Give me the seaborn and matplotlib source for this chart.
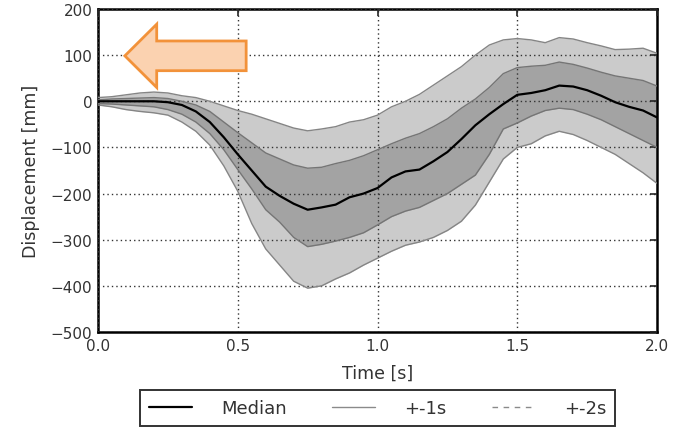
import matplotlib
matplotlib.use("Agg")
import matplotlib.pyplot as plt
from matplotlib.patches import Polygon
from matplotlib.lines import Line2D
import seaborn as sns
import pandas as pd

# time axis [s] and displacement statistics [mm]
time_s = [0.00, 0.05, 0.10, 0.15, 0.20, 0.25, 0.30, 0.35, 0.40, 0.45,
          0.50, 0.55, 0.60, 0.65, 0.70, 0.75, 0.80, 0.85, 0.90, 0.95,
          1.00, 1.05, 1.10, 1.15, 1.20, 1.25, 1.30, 1.35, 1.40, 1.45,
          1.50, 1.55, 1.60, 1.65, 1.70, 1.75, 1.80, 1.85, 1.90, 1.95, 2.00]

median = [0, 0, 0, 0, 0, -2, -8, -22, -45, -78,
          -115, -150, -185, -205, -222, -235, -230, -224, -208, -200,
          -188, -165, -152, -148, -130, -110, -82, -52, -28, -6,
          14, 18, 24, 34, 32, 24, 12, -2, -12, -20, -35]

plus_1s = [3, 5, 6, 7, 8, 6, 0, -8, -22, -45,
           -68, -90, -112, -125, -138, -145, -143, -135, -128, -118,
           -105, -92, -80, -70, -55, -38, -15, 5, 30, 60,
           73, 76, 78, 85, 80, 72, 63, 55, 50, 45, 33]

minus_1s = [-5, -6, -8, -10, -12, -18, -28, -45, -70, -105,
            -148, -190, -235, -262, -295, -315, -310, -303, -295, -285,
            -268, -250, -238, -230, -215, -200, -180, -160, -115, -60,
            -47, -32, -20, -15, -18, -28, -40, -55, -70, -85, -100]

plus_2s = [8, 10, 14, 18, 20, 18, 12, 8, 0, -10,
           -20, -28, -38, -48, -58, -64, -60, -55, -45, -40,
           -30, -12, 0, 15, 35, 55, 75, 100, 122, 133,
           136, 133, 127, 138, 135, 127, 120, 112, 113, 115, 104]

minus_2s = [-8, -12, -18, -22, -25, -30, -45, -65, -95, -140,
            -195, -265, -320, -355, -390, -405, -400, -385, -372, -355,
            -340, -325, -312, -305, -295, -280, -260, -225, -175, -125,
            -100, -92, -75, -65, -72, -85, -100, -115, -135, -155, -178]

legend_labels = ["Median", "+-1s", "+-2s"]

df = pd.DataFrame({"time": time_s, "median": median,
                   "p1": plus_1s, "m1": minus_1s,
                   "p2": plus_2s, "m2": minus_2s})

sns.set_style("white")
plt.rcParams["font.family"] = ["DejaVu Sans"]
plt.rcParams["xtick.direction"] = "in"
plt.rcParams["ytick.direction"] = "in"

fig = plt.figure(figsize=(6.83, 4.31), dpi=100)
ax = fig.add_axes([0.1435, 0.2274, 0.8185, 0.7494])

ax.fill_between(df["time"], df["m2"], df["p2"], color="#cbcbcb", lw=0, zorder=1)
ax.fill_between(df["time"], df["m1"], df["p1"], color="#a3a3a3", lw=0, zorder=2)
for col in ["p2", "m2"]:
    sns.lineplot(data=df, x="time", y=col, ax=ax, color="#858585", lw=1.0, zorder=3)
for col in ["p1", "m1"]:
    sns.lineplot(data=df, x="time", y=col, ax=ax, color="#757575", lw=1.0, zorder=3)
sns.lineplot(data=df, x="time", y="median", ax=ax, color="black", lw=1.6, zorder=4)

ax.set_xlim(0, 2.0)
ax.set_ylim(-500, 200)
ax.set_xticks([0.0, 0.5, 1.0, 1.5, 2.0])
ax.set_yticks(range(-500, 201, 100))
ax.grid(True, color="#333333", linestyle=(0, (1, 2.2)), linewidth=1.0)
ax.set_axisbelow(False)
for sp in ax.spines.values():
    sp.set_color("black")
    sp.set_linewidth(1.8)
ax.tick_params(axis="both", which="both", top=True, right=True, length=5,
               width=1.2, labelsize=11, labelcolor="#333333", pad=4)
ax.set_xlabel("Time [s]", fontsize=12.5, color="#333333", labelpad=8)
ax.set_ylabel("Displacement [mm]", fontsize=12.5, color="#333333", labelpad=8)

# orange arrow pointing left (axes fraction units)
tip_x, tail_x, mid_y = 0.048, 0.265, 0.855
head_len, half_head, half_shaft = 0.057, 0.098, 0.046
arrow = Polygon([(tip_x, mid_y), (tip_x + head_len, mid_y + half_head),
                 (tip_x + head_len, mid_y + half_shaft), (tail_x, mid_y + half_shaft),
                 (tail_x, mid_y - half_shaft), (tip_x + head_len, mid_y - half_shaft),
                 (tip_x + head_len, mid_y - half_head)],
                closed=True, transform=ax.transAxes, facecolor="#fbd2b0",
                edgecolor="#f2923a", lw=2, zorder=6)
ax.add_patch(arrow)

handles = [Line2D([], [], color="black", lw=1.6),
           Line2D([], [], color="#8a8a8a", lw=1.0),
           Line2D([], [], color="#8a8a8a", lw=1.0, ls=(0, (4, 4)))]
leg = fig.legend(handles, legend_labels, loc="upper center", ncol=3,
                 bbox_to_anchor=(0.553, 0.093), fontsize=13, frameon=True,
                 fancybox=False, handlelength=2.4, handletextpad=1.6,
                 columnspacing=2.5, borderpad=0.5, borderaxespad=0.0)
leg.get_frame().set_edgecolor("black")
leg.get_frame().set_linewidth(1.4)
for t in leg.get_texts():
    t.set_color("#333333")

fig.savefig("out.png", dpi=100)
